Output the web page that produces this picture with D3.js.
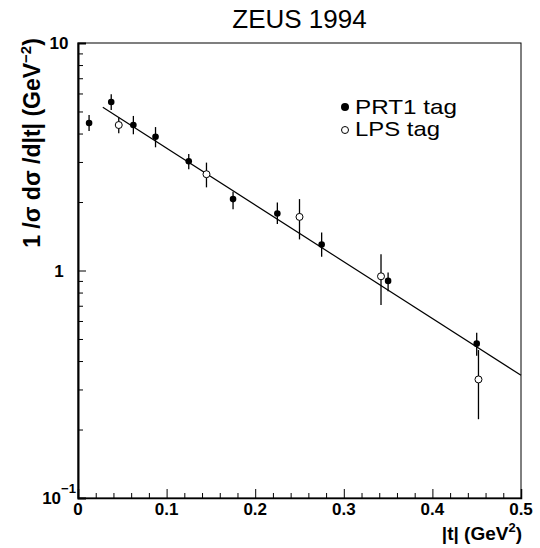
<!DOCTYPE html>
<html><head><meta charset="utf-8">
<script src="https://cdn.jsdelivr.net/npm/d3@7"></script>
<style>body{margin:0;background:#fff}svg{display:block}</style>
</head><body>
<svg id="c" width="540" height="548"></svg>
<script>
// ---- data ----
const prtT  = [0.0125, 0.0375, 0.0625, 0.0875, 0.125, 0.175, 0.225, 0.275, 0.35, 0.45];
const prtV  = [4.45, 5.50, 4.36, 3.87, 3.02, 2.06, 1.78, 1.30, 0.90, 0.477];
const prtLo = [4.10, 5.08, 3.97, 3.48, 2.79, 1.86, 1.60, 1.15, 0.81, 0.422];
const prtHi = [4.83, 5.95, 4.78, 4.27, 3.25, 2.22, 1.99, 1.47, 0.98, 0.533];
const lpsT  = [0.046, 0.145, 0.25, 0.342, 0.452];
const lpsV  = [4.36, 2.65, 1.72, 0.943, 0.332];
const lpsLo = [4.01, 2.32, 1.37, 0.705, 0.222];
const lpsHi = [4.71, 2.98, 2.06, 1.18, 0.447];
const fitT  = [0.028, 0.5];
const fitV  = [5.22, 0.346];
const xMajor = [0, 0.1, 0.2, 0.3, 0.4, 0.5];
const xMajorLabels = ["0", "0.1", "0.2", "0.3", "0.4", "0.5"];
const yMajor = [0.1, 1, 10];
const yMajorLabels = [["10", "−1"], ["1", ""], ["10", ""]];
const legendLabels = ["PRT1 tag", "LPS tag"];

// ---- layout ----
const svg = d3.select("#c");
const L = 78, R = 521, T = 43, B = 498;
const x = d3.scaleLinear().domain([0, 0.5]).range([L, R]);
const y = d3.scaleLog().domain([0.1, 10]).range([B, T]);
const font = "'Liberation Sans', Arial, Helvetica, sans-serif";

// frame
svg.append("rect").attr("x", L).attr("y", T).attr("width", R - L).attr("height", B - T)
  .attr("fill", "none").attr("stroke", "#000").attr("stroke-width", 1);

// x axis
const xMinor = d3.range(0, 0.5001, 0.02).filter(v => xMajor.every(m => Math.abs(m - v) > 1e-6));
const gx = svg.append("g").attr("transform", `translate(0,${B})`);
gx.call(d3.axisBottom(x).tickValues(xMajor).tickSize(-9).tickFormat(""));
gx.append("g").call(d3.axisBottom(x).tickValues(xMinor).tickSize(-5).tickFormat(""))
  .select(".domain").remove();
gx.selectAll(".domain").attr("stroke-width", 1.5);
gx.selectAll("line").attr("stroke", "#000");
svg.append("g").selectAll("text").data(xMajor).join("text")
  .attr("x", d => x(d)).attr("y", 515).attr("text-anchor", "middle")
  .attr("font-family", font).attr("font-weight", "bold").attr("font-size", 17)
  .text((d, i) => xMajorLabels[i]);

// y axis
const yMinor = [];
[0.1, 1].forEach(dec => { for (let k = 2; k <= 9; k++) yMinor.push(dec * k); });
const gy = svg.append("g").attr("transform", `translate(${L},0)`);
gy.call(d3.axisLeft(y).tickValues(yMajor).tickSize(-8).tickFormat(""));
gy.append("g").call(d3.axisLeft(y).tickValues(yMinor).tickSize(-5).tickFormat(""))
  .select(".domain").remove();
gy.selectAll(".domain").attr("stroke-width", 2);
gy.selectAll("line").attr("stroke", "#000");
const yl = svg.append("g").selectAll("text").data(yMajor).join("text")
  .attr("x", 59).attr("y", d => y(d) + 6).attr("text-anchor", "middle")
  .attr("font-family", font).attr("font-weight", "bold").attr("font-size", 17);
yl.append("tspan").text((d, i) => yMajorLabels[i][0]);
yl.append("tspan").attr("dy", -11).attr("font-size", 13).text((d, i) => yMajorLabels[i][1]);

// title
svg.append("text").attr("x", (L + R) / 2).attr("y", 28).attr("text-anchor", "middle")
  .attr("font-family", font).attr("font-size", 26).text("ZEUS 1994");

// axis titles
const xt = svg.append("text").attr("x", 522).attr("y", 540).attr("text-anchor", "end")
  .attr("font-family", font).attr("font-weight", "bold").attr("font-size", 19);
xt.append("tspan").text("|t| (GeV");
xt.append("tspan").attr("dy", -8).attr("font-size", 13).text("2");
xt.append("tspan").attr("dy", 8).text(")");

const yt = svg.append("text").attr("transform", "translate(40,143) rotate(-90)")
  .attr("text-anchor", "middle")
  .attr("font-family", font).attr("font-weight", "bold").attr("font-size", 23);
yt.append("tspan").text("1 /σ dσ /d|t| (GeV");
yt.append("tspan").attr("dy", -9).attr("font-size", 15).text("−2");
yt.append("tspan").attr("dy", 9).text(")");

// fit line
svg.append("path").datum(fitT.map((t, i) => [t, fitV[i]]))
  .attr("d", d3.line().x(d => x(d[0])).y(d => y(d[1])))
  .attr("fill", "none").attr("stroke", "#000").attr("stroke-width", 1.2);

// error bars
function bars(T_, lo, hi) {
  svg.append("g").selectAll("line").data(T_).join("line")
    .attr("x1", d => x(d)).attr("x2", d => x(d))
    .attr("y1", (d, i) => y(lo[i])).attr("y2", (d, i) => y(hi[i]))
    .attr("stroke", "#000").attr("stroke-width", 1.3);
}
bars(prtT, prtLo, prtHi);
bars(lpsT, lpsLo, lpsHi);

// markers
svg.append("g").selectAll("circle").data(prtT).join("circle")
  .attr("cx", d => x(d)).attr("cy", (d, i) => y(prtV[i])).attr("r", 3.3)
  .attr("fill", "#000");
svg.append("g").selectAll("circle").data(lpsT).join("circle")
  .attr("cx", d => x(d)).attr("cy", (d, i) => y(lpsV[i])).attr("r", 3.5)
  .attr("fill", "#fff").attr("stroke", "#000").attr("stroke-width", 1);

// legend
const lg = svg.append("g");
lg.append("circle").attr("cx", 345).attr("cy", 107).attr("r", 4).attr("fill", "#000");
lg.append("circle").attr("cx", 345).attr("cy", 130).attr("r", 3.5).attr("fill", "#fff")
  .attr("stroke", "#000").attr("stroke-width", 1);
lg.selectAll("text").data(legendLabels).join("text")
  .attr("x", 355).attr("y", (d, i) => 114 + i * 22)
  .attr("font-family", font).attr("font-size", 21)
  .attr("textLength", (d, i) => i === 0 ? 102 : 85).attr("lengthAdjust", "spacingAndGlyphs")
  .text(d => d);
</script>
</body></html>
